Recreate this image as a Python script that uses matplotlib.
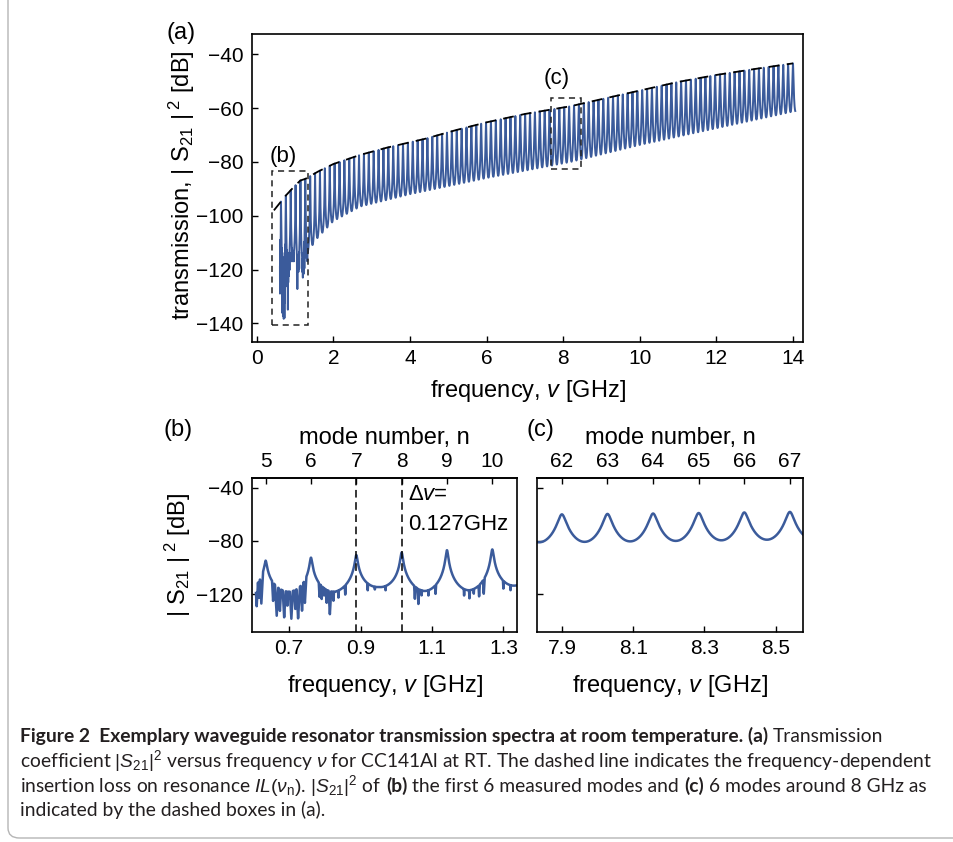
import numpy as np
import matplotlib
matplotlib.use('Agg')
import matplotlib.pyplot as plt
from matplotlib.patches import Rectangle, FancyBboxPatch

plt.rcParams['font.family'] = ['Liberation Sans', 'DejaVu Sans']
plt.rcParams['mathtext.fontset'] = 'custom'
plt.rcParams['mathtext.rm'] = 'Liberation Sans'
plt.rcParams['mathtext.it'] = 'Liberation Sans:italic'
plt.rcParams['mathtext.bf'] = 'Liberation Sans:bold'

mode_anchor_n = [5, 10, 62, 67, 110]
mode_anchor_f = [0.634, 1.269, 7.900, 8.540, 14.00]
modes = np.arange(5, 111)

# level on resonance = dashed insertion-loss line in (a)
env_f = [0.45, 0.63, 0.76, 0.89, 1.01, 1.14, 1.27, 1.6, 2.0, 2.7, 3.4, 4.4,
         5.2, 6.0, 7.0, 8.2, 9.0, 10.0, 11.0, 12.0, 13.0, 14.0]
env_db = [-98.0, -94.8, -92.5, -90.5, -88.7, -86.9, -86.3, -83.6, -80.8, -77.4,
          -74.7, -71.4, -68.2, -65.3, -62.2, -59.3, -56.7, -53.5, -50.3, -47.7,
          -45.5, -43.4]

# level half way between neighbouring modes
trough_f = [0.60, 0.70, 0.83, 0.95, 1.08, 1.20, 1.33, 1.6, 2.0, 2.7, 4.0,
            6.0, 8.2, 10.0, 12.0, 14.0, 14.1]
trough_db = [-117, -118, -118, -114.5, -117.5, -117, -113.5, -108, -102,
             -96.6, -92, -86, -80, -73.7, -67.5, -61.3, -61]

# resonance width relative to the mode spacing (sharp at 1 GHz, broader at 8 GHz)
width_f = [1.0, 8.2]
width_r = [0.022, 0.08]

# deep noisy dips below 1.35 GHz, as seen in (b)
dip_f = [0.609, 0.615, 0.622, 0.655, 0.665, 0.674, 0.686, 0.695, 0.706, 0.717,
         0.725, 0.736, 0.744, 0.785, 0.791, 0.798, 0.805, 0.814, 0.824, 0.838,
         0.857, 0.92, 0.94, 0.97, 1.052, 1.062, 1.071, 1.09, 1.11, 1.19, 1.205,
         1.217, 1.232, 1.245, 1.30, 1.32]
dip_db = [-129, -123, -127, -125, -136.4, -132.6, -137.6, -129, -138.8, -131.4,
          -138.3, -132.6, -126.4, -122, -123.9, -121, -126.4, -135.1, -125,
          -122.7, -120.2, -117, -116.5, -117, -123.7, -127.5, -121.2, -121,
          -120, -121, -123, -120, -122, -120, -116, -117]

# dashed boxes in (a): (f0, db0, f1, db1)
box_b = (0.39, -140.6, 1.35, -83.5)
box_c = (7.68, -82.6, 8.47, -56.1)

# build the resonance spectrum from the values above
fn = np.interp(modes, mode_anchor_n, mode_anchor_f)
fn_pad = np.concatenate([[2 * fn[0] - fn[1]], fn, [2 * fn[-1] - fn[-2]]])
f = np.linspace(0.607, 14.06, 60000)
k = np.searchsorted(fn_pad, f) - 1
lo, hi = fn_pad[k], fn_pad[k + 1]
r = np.interp(f, width_f, width_r)
g = r * (hi - lo)
P = 10 * np.log10(1 / (1 + ((f - lo) / g) ** 2) + 1 / (1 + ((hi - f) / g) ** 2))
pmax = 10 * np.log10(1 + 1 / (1 + (1 / r) ** 2))
pmin = 10 * np.log10(2 / (1 + (0.5 / r) ** 2))
s = np.clip((P - pmin) / (pmax - pmin), 0, 1)
peak = np.interp(f, env_f, env_db)
base = np.interp(f, trough_f, trough_db)
s21 = base + (peak - base) * s
for fd, dd in zip(dip_f, dip_db):
    s21 = np.minimum(s21, dd + 5000 * np.abs(f - fd))

blue = '#3b5b9b'
W, H = 954, 842


def px_box(l, t, rr, b):
    return [l / W, 1 - b / H, (rr - l) / W, (b - t) / H]


def style(ax):
    for sp in ax.spines.values():
        sp.set_linewidth(1.2)
    ax.tick_params(direction='in', length=4, width=1, labelsize=15,
                   top=False, right=False)
    ax.tick_params(axis='x', pad=5)
    ax.tick_params(axis='y', pad=6)


s21_label = r'$|\ \mathrm{S}_{21}\ |^{\ 2}$ [dB]'

fig = plt.figure(figsize=(W / 100, H / 100), dpi=100)

# ---------------- (a)
ax = fig.add_axes(px_box(251.7, 34.3, 803.3, 342.3))
ax.plot(f, s21, color=blue, lw=1.4, zorder=2)
ax.plot(env_f, env_db, color='black', lw=1.3, ls=(0, (6, 4)), zorder=3)
for bx in (box_b, box_c):
    ax.add_patch(Rectangle((bx[0], bx[1]), bx[2] - bx[0], bx[3] - bx[1],
                           fill=False, ec='#222222', lw=1.1, ls=(0, (4, 3)), zorder=4))
ax.text(0.69, -78, '(b)', fontsize=16, ha='center', va='center')
ax.text(7.83, -49, '(c)', fontsize=16, ha='center', va='center')
ax.set_xlim(-0.13, 14.27)
ax.set_ylim(-147, -32.6)
ax.set_xticks(range(0, 15, 2))
ax.set_yticks([-40, -60, -80, -100, -120, -140])
style(ax)
ax.set_xlabel(r'frequency, $\mathit{v}$ [GHz]', fontsize=17)
ax.set_ylabel('transmission, ' + s21_label, fontsize=17)
ax.xaxis.set_label_coords(0.5, -0.115)
ax.yaxis.set_label_coords(-0.1, 0.51)


def zoom_panel(rect, xlim, xt, top_modes, ylabels):
    a = fig.add_axes(rect)
    a.plot(f, s21, color=blue, lw=1.8)
    a.set_xlim(*xlim)
    a.set_ylim(-148, -33)
    a.set_xticks(xt)
    a.set_xticklabels([f'{v:.1f}' for v in xt])
    a.set_yticks([-40, -80, -120])
    if not ylabels:
        a.set_yticklabels([])
    style(a)
    a.set_xlabel(r'frequency, $\mathit{v}$ [GHz]', fontsize=17)
    a.xaxis.set_label_coords(0.5, -0.27)
    top = a.secondary_xaxis('top')
    top.set_xticks(fn[modes.searchsorted(top_modes)])
    top.set_xticklabels([str(m) for m in top_modes])
    top.tick_params(direction='in', length=4, width=1, labelsize=15, pad=5)
    for sp in top.spines.values():
        sp.set_linewidth(1.2)
    top.set_xlabel('mode number, n', fontsize=17, labelpad=6)
    return a


# ---------------- (b)
axb = zoom_panel(px_box(251.7, 478.3, 517.3, 631.7), (0.595, 1.339),
                 [0.7, 0.9, 1.1, 1.3], [5, 6, 7, 8, 9, 10], True)
axb.set_ylabel(s21_label, fontsize=17)
axb.yaxis.set_label_coords(-0.22, 0.5)
for m in (7, 8):
    axb.axvline(fn[modes.searchsorted(m)], color='black', lw=1.1, ls=(0, (5, 3)))
axb.text(1.033, -45, r'$\Delta\mathit{v}$=', fontsize=16, va='center')
axb.text(1.033, -68, '0.127GHz', fontsize=16, va='center')

# ---------------- (c)
axc = zoom_panel(px_box(537.3, 478.3, 802.7, 631.7), (7.831, 8.576),
                 [7.9, 8.1, 8.3, 8.5], [62, 63, 64, 65, 66, 67], False)

fig.text(181 / W, 1 - 33 / H, '(a)', fontsize=17, ha='center', va='center')
fig.text(178 / W, 1 - 430 / H, '(b)', fontsize=17, ha='center', va='center')
fig.text(540 / W, 1 - 430 / H, '(c)', fontsize=17, ha='center', va='center')

# ---------------- caption
fig.patches.append(FancyBboxPatch((8 / W, 4 / H), 1.2, 1.2,
                                  boxstyle='round,pad=0,rounding_size=0.012',
                                  transform=fig.transFigure, fill=False,
                                  ec='#b5b5b5', lw=1.0))
cap_font = ['Liberation Sans Narrow', 'DejaVu Sans Condensed', 'Lato', 'Liberation Sans']
cap_lines = [
    [("Figure 2  Exemplary waveguide resonator transmission spectra at room temperature. (a)", 'bold'),
     ("Transmission", 'normal')],
    [(r"coefficient $|S_{21}|^2$ versus frequency $\nu$ for CC141Al at RT. The dashed line indicates the frequency-dependent", 'normal')],
    [(r"insertion loss on resonance $IL(\nu_\mathrm{n})$. $|S_{21}|^2$ of", 'normal'), ("(b)", 'bold'),
     ("the first 6 measured modes and", 'normal'), ("(c)", 'bold'),
     ("6 modes around 8 GHz as", 'normal')],
    [("indicated by the dashed boxes in (a).", 'normal')],
]
cap_y = [742, 767, 792, 816]
cap_right = [942, 932, 942, 400]
renderer = fig.canvas.get_renderer()


def text_w(s, size, weight):
    t = fig.text(0, 0, s, fontsize=size, weight=weight, family=cap_font)
    w = t.get_window_extent(renderer).width
    t.remove()
    return w


def line_w(parts, size):
    sp = text_w('a a', size, 'normal') - text_w('aa', size, 'normal')
    return sum(text_w(p, size, wt) for p, wt in parts) + sp * (len(parts) - 1), sp


cap_size = min(12 * (right - 20) / line_w(parts, 12)[0]
               for parts, right in zip(cap_lines, cap_right))
for parts, y in zip(cap_lines, cap_y):
    _, sp = line_w(parts, cap_size)
    x = 20
    for p, wt in parts:
        t = fig.text(x / W, 1 - y / H, p, fontsize=cap_size, weight=wt,
                     family=cap_font, color='#231f20', va='baseline', ha='left')
        x += t.get_window_extent(renderer).width + sp

fig.savefig('out.png', dpi=100)
